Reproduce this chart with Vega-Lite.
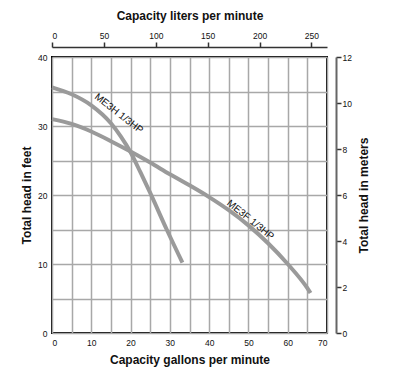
{
  "$schema": "https://vega.github.io/schema/vega-lite/v6.json",
  "width": 275,
  "height": 276,
  "autosize": "none",
  "padding": {"left": 52, "top": 57, "right": 78, "bottom": 48},
  "background": "white",
  "config": {
    "view": {"stroke": "black", "strokeWidth": 2},
    "axis": {"labelFont": "Liberation Sans", "labelFontSize": 8.5, "labelColor": "#111", "titleFont": "Liberation Sans", "titleFontSize": 12, "titleFontWeight": "bold", "titleColor": "#111"}
  },
  "resolve": {"scale": {"x": "independent", "y": "independent"}, "axis": {"x": "independent", "y": "independent"}},
  "layer": [
    {
      "data": {"values": [
        {"series": "ME3H", "gpm": 0, "ft": 35.6},
        {"series": "ME3H", "gpm": 5, "ft": 34.6},
        {"series": "ME3H", "gpm": 10, "ft": 33.0},
        {"series": "ME3H", "gpm": 15, "ft": 30.4},
        {"series": "ME3H", "gpm": 17.5, "ft": 28.5},
        {"series": "ME3H", "gpm": 20, "ft": 26.2},
        {"series": "ME3H", "gpm": 22.5, "ft": 23.3},
        {"series": "ME3H", "gpm": 25, "ft": 20.3},
        {"series": "ME3H", "gpm": 29.2, "ft": 15.0},
        {"series": "ME3H", "gpm": 33.2, "ft": 10.2},
        {"series": "ME3F", "gpm": 0, "ft": 31.0},
        {"series": "ME3F", "gpm": 5, "ft": 30.3},
        {"series": "ME3F", "gpm": 10, "ft": 29.2},
        {"series": "ME3F", "gpm": 15, "ft": 27.8},
        {"series": "ME3F", "gpm": 20, "ft": 26.3},
        {"series": "ME3F", "gpm": 25, "ft": 24.7},
        {"series": "ME3F", "gpm": 30, "ft": 23.0},
        {"series": "ME3F", "gpm": 35, "ft": 21.4},
        {"series": "ME3F", "gpm": 40, "ft": 19.7},
        {"series": "ME3F", "gpm": 45, "ft": 17.8},
        {"series": "ME3F", "gpm": 50, "ft": 15.6},
        {"series": "ME3F", "gpm": 55, "ft": 13.0},
        {"series": "ME3F", "gpm": 60, "ft": 10.0},
        {"series": "ME3F", "gpm": 65, "ft": 6.5},
        {"series": "ME3F", "gpm": 65.8, "ft": 5.8}
      ]},
      "mark": {"type": "line", "color": "#9a9a9a", "strokeWidth": 4, "strokeCap": "butt", "interpolate": "monotone"},
      "encoding": {
        "x": {"field": "gpm", "type": "quantitative", "scale": {"domain": [0, 70], "nice": false},
          "axis": {"orient": "bottom", "title": "Capacity gallons per minute", "values": [0,5,10,15,20,25,30,35,40,45,50,55,60,65,70], "labelExpr": "datum.value % 10 == 0 ? datum.label : ''", "grid": true, "gridColor": "#a8a8a8", "gridWidth": 1.5, "gridOpacity": 1, "domain": false, "ticks": false, "labelPadding": 5, "titlePadding": 8}},
        "y": {"field": "ft", "type": "quantitative", "scale": {"domain": [0, 40], "nice": false},
          "axis": {"orient": "left", "title": "Total head in feet", "values": [0,5,10,15,20,25,30,35,40], "labelExpr": "datum.value % 10 == 0 ? datum.label : ''", "grid": true, "gridColor": "#a8a8a8", "gridWidth": 1.5, "gridOpacity": 1, "domain": false, "ticks": false, "labelPadding": 5, "titlePadding": 4}},
        "detail": {"field": "series"}
      }
    },
    {
      "data": {"values": [
        {"label": "ME3H 1/3HP", "gpm": 17.0, "ft": 31.8, "angle": 38},
        {"label": "ME3F 1/3HP", "gpm": 50.5, "ft": 16.4, "angle": 39}
      ]},
      "mark": {"type": "text", "font": "Liberation Sans", "fontSize": 10, "color": "#111", "align": "center", "baseline": "middle"},
      "encoding": {
        "x": {"field": "gpm", "type": "quantitative", "scale": {"domain": [0, 70], "nice": false}, "axis": null},
        "y": {"field": "ft", "type": "quantitative", "scale": {"domain": [0, 40], "nice": false}, "axis": null},
        "text": {"field": "label"},
        "angle": {"field": "angle", "type": "quantitative", "scale": null}
      }
    },
    {
      "data": {"values": [{"liters": 0, "meters": 0}, {"liters": 264.97, "meters": 12}]},
      "mark": {"type": "point", "opacity": 0},
      "encoding": {
        "x": {"field": "liters", "type": "quantitative", "scale": {"domain": [0, 264.97], "nice": false},
          "axis": {"orient": "top", "title": "Capacity liters per minute", "values": [0, 50, 100, 150, 200, 250], "offset": 10, "grid": false, "domainColor": "#333", "domainWidth": 1.5, "tickColor": "#333", "tickWidth": 1.5, "tickSize": 5, "labelPadding": 2, "titlePadding": 9}},
        "y": {"field": "meters", "type": "quantitative", "scale": {"domain": [0, 12], "nice": false},
          "axis": {"orient": "right", "title": "Total head in meters", "titleAngle": 270, "values": [0, 2, 4, 6, 8, 10, 12], "offset": 9, "grid": false, "domainColor": "#666", "domainWidth": 2, "tickColor": "#333", "tickWidth": 1.5, "tickSize": 5, "labelPadding": 1, "titlePadding": 19}}
      }
    }
  ]
}
